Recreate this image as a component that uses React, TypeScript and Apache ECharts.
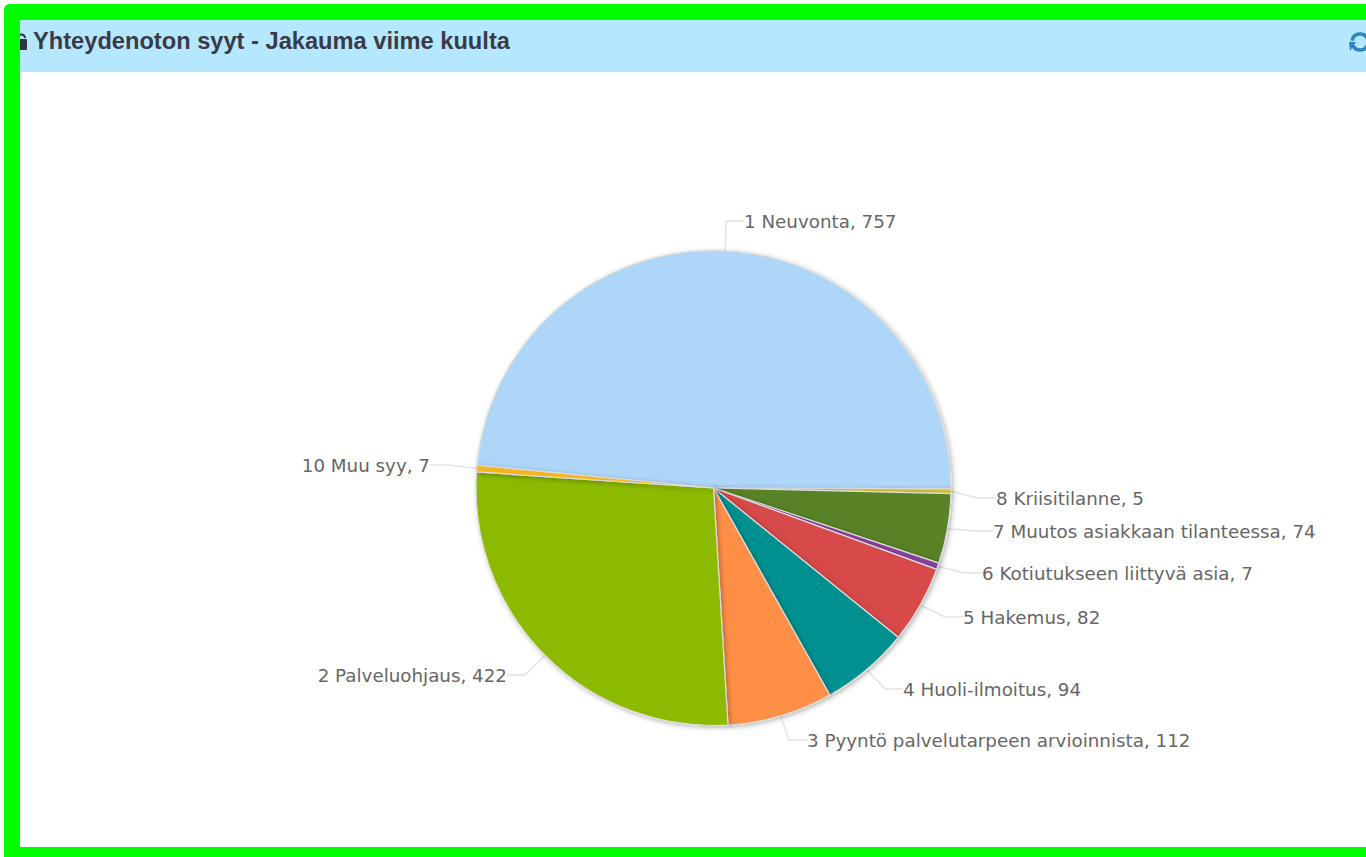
import React, { useEffect, useRef } from "react";
import * as echarts from "echarts";

const titleText = "Yhteydenoton syyt - Jakauma viime kuulta";
const categories = ["1 Neuvonta", "8 Kriisitilanne", "7 Muutos asiakkaan tilanteessa", "6 Kotiutukseen liittyvä asia", "5 Hakemus", "4 Huoli-ilmoitus", "3 Pyyntö palvelutarpeen arvioinnista", "2 Palveluohjaus", "10 Muu syy"];
const values = [757, 5, 74, 7, 82, 94, 112, 422, 7];
const colors = ["#aed6f8", "#d6c233", "#588228", "#8a3fa0", "#d84848", "#009090", "#ff8f47", "#8cba00", "#f5b41e"];
const labelSpots: [number, number, string][] = [
  [744, 221, "left"], [996, 498, "left"], [993, 531, "left"], [982, 573, "left"], [963, 617, "left"],
  [903, 689, "left"], [807, 740, "left"], [507, 675, "right"], [430, 465, "right"],
];

export default function App() {
  const ref = useRef<HTMLDivElement>(null);
  useEffect(() => {
    document.body.style.margin = "0";
    document.body.style.background = "#fff";
    const chart = echarts.init(ref.current!, null, { renderer: "svg" });
    const green = "#00ff00";
    chart.setOption({
      animation: false,
      backgroundColor: "#ffffff",
      series: [{
        type: "pie",
        center: [713.5, 488],
        radius: [0, 237.5],
        startAngle: 174.5,
        clockwise: true,
        minAngle: 0,
        avoidLabelOverlap: false,
        data: categories.map((name, i) => ({ name, value: values[i], itemStyle: { color: colors[i] } })),
        itemStyle: { borderColor: "#dcdcdc", borderWidth: 1.2, shadowBlur: 5, shadowColor: "rgba(0,0,0,0.3)", shadowOffsetX: 1.5, shadowOffsetY: 1.5 },
        label: { show: true, position: "outside", formatter: "{b}, {c}", fontFamily: "DejaVu Sans", fontSize: 18.3, color: "#666666" },
        labelLine: { show: true, length: 20, length2: 18, lineStyle: { color: "#e4e4dc", width: 1.5 } },
        labelLayout: (p: any) => {
          const s = labelSpots[p.dataIndex];
          return { x: s[0], y: s[1], align: s[2], verticalAlign: "middle" };
        },
        emphasis: { disabled: true },
      }],
      graphic: [
        { type: "rect", z: 1, shape: { x: 20, y: 20, width: 1346, height: 52 }, style: { fill: "#b5e8ff" } },
        { type: "text", z: 3, style: { x: 33, y: 41, text: titleText, font: "bold 23.65px 'Liberation Sans'", fill: "#3a3a48", textVerticalAlign: "middle" } },
        // lock icon
        { type: "rect", z: 3, shape: { x: 16, y: 39, width: 11, height: 11, r: 1 }, style: { fill: "#33333f" } },
        { type: "arc", z: 3, shape: { cx: 21.5, cy: 38, r: 3.5, startAngle: Math.PI, endAngle: 0, clockwise: true }, style: { stroke: "#33333f", lineWidth: 2, fill: "none" } },
        // refresh icon
        { type: "arc", z: 3, shape: { cx: 1360, cy: 42, r: 8, startAngle: Math.PI * 1.05, endAngle: Math.PI * 1.85, clockwise: true }, style: { stroke: "#2f86bd", lineWidth: 3.5, fill: "none" } },
        { type: "arc", z: 3, shape: { cx: 1360, cy: 42, r: 8, startAngle: Math.PI * 0.1, endAngle: Math.PI * 0.85, clockwise: true }, style: { stroke: "#2f86bd", lineWidth: 3.5, fill: "none" } },
        { type: "polygon", z: 3, shape: { points: [[1349, 42], [1356, 42], [1350, 51]] }, style: { fill: "#2f86bd" } },
        // green frame
        { type: "rect", z: 4, shape: { x: 4, y: 4, width: 1362, height: 16, r: [6, 0, 0, 0] }, style: { fill: green } },
        { type: "rect", z: 4, shape: { x: 4, y: 4, width: 16, height: 853, r: [6, 0, 0, 0] }, style: { fill: green } },
        { type: "rect", z: 4, shape: { x: 4, y: 847, width: 1362, height: 10 }, style: { fill: green } },
      ],
    });
    return () => chart.dispose();
  }, []);
  return <div ref={ref} style={{ width: 1366, height: 857 }} />;
}
